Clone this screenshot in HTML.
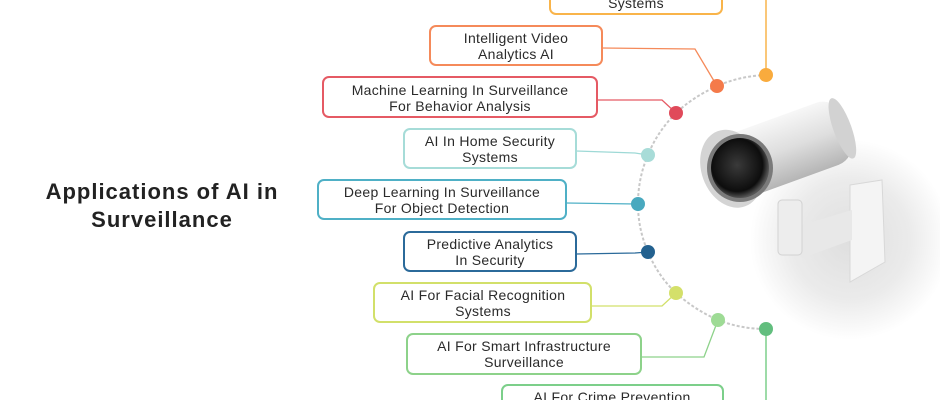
<!DOCTYPE html>
<html><head><meta charset="utf-8"><style>
body{margin:0;width:940px;height:400px;overflow:hidden;background:#fff;font-family:"Liberation Sans",sans-serif}
</style></head><body>
<svg width="940" height="400" viewBox="0 0 940 400" xmlns="http://www.w3.org/2000/svg">
<defs>
<radialGradient id="bg" cx="0.5" cy="0.5" r="0.5"><stop offset="0" stop-color="#dedede"/><stop offset="0.6" stop-color="#ebebeb"/><stop offset="1" stop-color="#fff"/></radialGradient>
<linearGradient id="tube" x1="0" y1="0" x2="0" y2="1"><stop offset="0" stop-color="#f7f7f7"/><stop offset="0.5" stop-color="#dedede"/><stop offset="1" stop-color="#b5b5b5"/></linearGradient>
<radialGradient id="lens" cx="0.45" cy="0.45" r="0.55"><stop offset="0" stop-color="#3a3a3a"/><stop offset="0.8" stop-color="#0d0d0d"/><stop offset="1" stop-color="#555"/></radialGradient>
</defs>
<circle cx="850" cy="240" r="100" fill="url(#bg)"/>
<path d="M766 75 Q740 76 717 86 Q693 97 676 113 Q657 132 648 155 Q638 178 638 204 Q638 229 648 252 Q658 276 676 293 Q695 310 718 320 Q741 329 766 329" fill="none" stroke="#c8c8c8" stroke-width="2" stroke-dasharray="3 2"/>
<line x1="766" y1="0" x2="766" y2="75" stroke="#f9b44a" stroke-width="1.5"/>
<line x1="766" y1="329" x2="766" y2="400" stroke="#7ccf8a" stroke-width="1.5"/>
<g fill="none" stroke-width="1.3">
<polyline points="602,48 695,49 717,86" stroke="#f58a5a"/>
<polyline points="597,100 662,100 676,113" stroke="#e55a64"/>
<polyline points="576,151 635,153 648,155" stroke="#9ed9d6"/>
<polyline points="566,203 638,204" stroke="#4fb0c6"/>
<polyline points="576,254 635,253 648,252" stroke="#2b6a9a"/>
<polyline points="591,306 662,306 676,293" stroke="#d2e06a"/>
<polyline points="641,357 704,357 718,320" stroke="#8dd28a"/>
</g>
<circle cx="766" cy="75" r="7" fill="#f9ab3d"/>
<circle cx="717" cy="86" r="7" fill="#f47a4a"/>
<circle cx="676" cy="113" r="7" fill="#e04a5a"/>
<circle cx="648" cy="155" r="7" fill="#a8dcd8"/>
<circle cx="638" cy="204" r="7" fill="#49a9bf"/>
<circle cx="648" cy="252" r="7" fill="#23618f"/>
<circle cx="676" cy="293" r="7" fill="#d4e06a"/>
<circle cx="718" cy="320" r="7" fill="#9edb95"/>
<circle cx="766" cy="329" r="7" fill="#62be7e"/>
<g fill="#fff" stroke-width="2">
<rect x="550" y="-26" width="172" height="40" rx="6" stroke="#f9b44a"/>
<rect x="430" y="26" width="172" height="39" rx="6" stroke="#f58a5a"/>
<rect x="323" y="77" width="274" height="40" rx="6" stroke="#e55a64"/>
<rect x="404" y="129" width="172" height="39" rx="6" stroke="#a6dcd8"/>
<rect x="318" y="180" width="248" height="39" rx="6" stroke="#4fb0c6"/>
<rect x="404" y="232" width="172" height="39" rx="6" stroke="#2b6a9a"/>
<rect x="374" y="283" width="217" height="39" rx="6" stroke="#d2e06a"/>
<rect x="407" y="334" width="234" height="40" rx="6" stroke="#8dd28a"/>
<rect x="502" y="385" width="221" height="40" rx="6" stroke="#7ccf8a"/>
</g>
<g font-size="14" letter-spacing="0.3" fill="#2a2a2a" text-anchor="middle">
<text x="636" y="8">Systems</text>
<text x="516" y="43">Intelligent Video</text><text x="516" y="59">Analytics AI</text>
<text x="460" y="95">Machine Learning In Surveillance</text><text x="460" y="111">For Behavior Analysis</text>
<text x="490" y="146">AI In Home Security</text><text x="490" y="162">Systems</text>
<text x="442" y="197">Deep Learning In Surveillance</text><text x="442" y="213">For Object Detection</text>
<text x="490" y="249">Predictive Analytics</text><text x="490" y="265">In Security</text>
<text x="483" y="300">AI For Facial Recognition</text><text x="483" y="316">Systems</text>
<text x="524" y="351">AI For Smart Infrastructure</text><text x="524" y="367">Surveillance</text>
<text x="612" y="402">AI For Crime Prevention</text>
</g>
<g font-size="22" font-weight="bold" fill="#222" text-anchor="middle" letter-spacing="1">
<text x="162" y="199">Applications of AI in</text>
<text x="162" y="227">Surveillance</text>
</g>
<g>
<path d="M850 185 L882 180 L885 262 L850 282 Z" fill="#f4f4f4" stroke="#d8d8d8"/>
<path d="M792 228 L852 210 L852 240 L802 258 Z" fill="#e8e8e8"/>
<rect x="778" y="200" width="24" height="55" rx="4" fill="#ededed" stroke="#d2d2d2"/>
<g transform="rotate(-20 780 150)">
<rect x="725" y="118" width="125" height="66" rx="20" fill="url(#tube)"/>
<ellipse cx="846" cy="151" rx="9" ry="32" fill="#d2d2d2"/>
<ellipse cx="728" cy="151" rx="30" ry="40" fill="#d4d4d4"/>
</g>
<ellipse cx="740" cy="168" rx="33" ry="34" fill="#7a7a7a"/>
<ellipse cx="740" cy="168" rx="29" ry="30" fill="url(#lens)"/>
</g>
</svg>
</body></html>
